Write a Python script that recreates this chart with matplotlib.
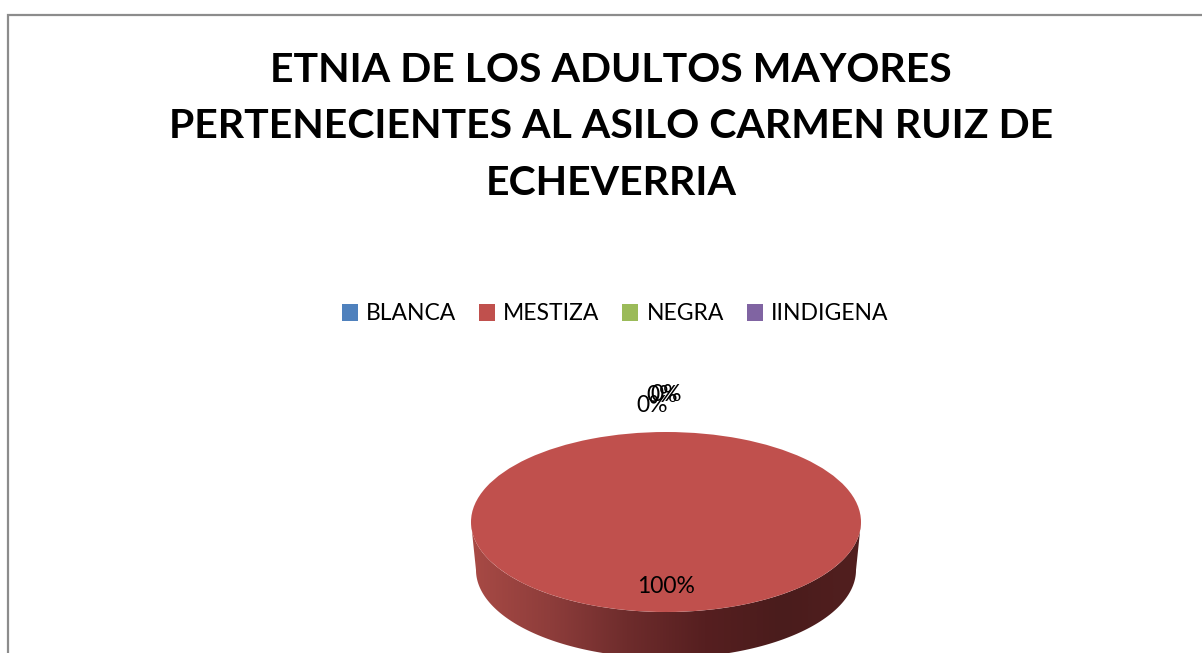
import matplotlib.pyplot as plt
import numpy as np
from matplotlib.colors import LinearSegmentedColormap
from matplotlib.patches import Polygon, Rectangle

categories = ["BLANCA", "MESTIZA", "NEGRA", "IINDIGENA"]
values = [0, 100, 0, 0]
colors = ["#4F81BD", "#C0504D", "#9BBB59", "#8064A2"]
title = "ETNIA DE LOS ADULTOS MAYORES\nPERTENECIENTES AL ASILO CARMEN RUIZ DE\nECHEVERRIA"

W, H = 1202, 653
fig = plt.figure(figsize=(W / 100, H / 100), dpi=100)
fig.patch.set_facecolor("white")

# chart area border (runs off the right and bottom edge)
fig.add_artist(Rectangle((8 / W, -0.1), 1.2, (H - 15) / H + 0.1,
                         transform=fig.transFigure, fill=False,
                         ec="#8c8c8c", lw=1.6))

fig.text(611 / W, 1 - 127 / H, title, ha="center", va="center",
         fontsize=29.5, fontweight="bold", family=["Lato", "DejaVu Sans"],
         linespacing=1.66)

# pie axes: 1 data unit = 195 px horizontally, 90 px vertically
rx, ry = 195, 90
cx, cy = 666, 522
ylo, yhi = -1.6, 1.0
ax = fig.add_axes([(cx - rx) / W, (H - (cy - ylo * ry)) / H,
                   2 * rx / W, (yhi - ylo) * ry / H])

wedges, _ = ax.pie(values, colors=colors, startangle=90, counterclock=False,
                   radius=1, wedgeprops=dict(linewidth=0), frame=False)
ax.set_aspect("auto")
ax.set_xlim(-1, 1)
ax.set_ylim(ylo, yhi)
ax.axis("off")
for w in wedges:
    w.set_zorder(3)

# 3d side of the pie
depth = 48 / ry
bx, by = 190 / rx, 88 / ry
side_cmap = LinearSegmentedColormap.from_list(
    "side", ["#A84A45", "#8E3D3B", "#6E2C2C", "#561F20", "#4A1C1C", "#521F1F"])
grad = np.linspace(0, 1, 400).reshape(1, -1)

for w, val in zip(wedges, values):
    if val == 0:
        continue
    t1, t2 = w.theta1, w.theta2
    for k in (-360, 0, 360):
        lo, hi = max(t1, 180 + k), min(t2, 360 + k)
        if hi <= lo:
            continue
        th = np.radians(np.linspace(lo, hi, 200))
        top = np.column_stack([np.cos(th), np.sin(th)])
        bot = np.column_stack([bx * np.cos(th[::-1]), by * np.sin(th[::-1]) - depth])
        poly = Polygon(np.vstack([top, bot]), closed=True, fc="none", ec="none")
        ax.add_patch(poly)
        im = ax.imshow(grad, extent=[-1, 1, ylo, 0.2], aspect="auto",
                       cmap=side_cmap, zorder=2)
        im.set_clip_path(poly)

# data labels (Excel stacks the zero labels on top of each other)
nudge = [(-0.07, -0.01), (0, 0), (-0.02, 0.11), (0.0, 0.12)]
for w, val, (dx, dy) in zip(wedges, values, nudge):
    mid = np.radians((w.theta1 + w.theta2) / 2)
    dist = 0.72 if val > 0 else 1.3
    ax.text(dist * np.cos(mid) + dx, dist * np.sin(mid) + dy,
            f"{val / sum(values):.0%}", ha="center", va="center",
            fontsize=16.5, family=["Lato", "DejaVu Sans"], zorder=5)

fig.legend(wedges, categories, loc="center", bbox_to_anchor=(615 / W, 1 - 314 / H),
           ncol=4, frameon=False, handlelength=0.7, handleheight=0.7,
           handletextpad=0.35, columnspacing=1.0,
           prop=dict(family=["Lato", "DejaVu Sans"], size=16.5))

fig.savefig("out.png", dpi=100)
